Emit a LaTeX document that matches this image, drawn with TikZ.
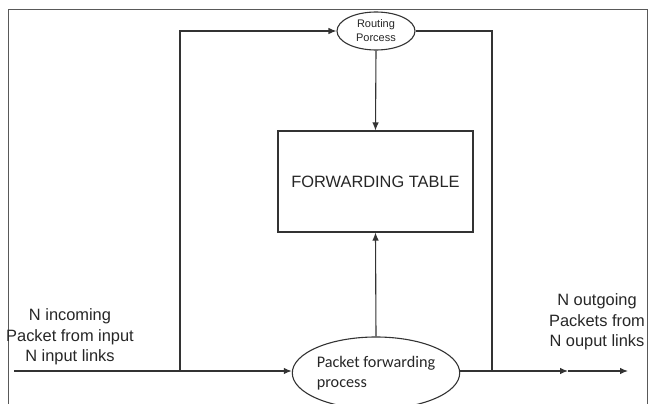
\documentclass[tikz,border=0pt]{standalone}
\usepackage{fontspec}
\setmainfont{Liberation Sans}
\newfontfamily\calibrifont{Carlito}
\usetikzlibrary{shapes.geometric,arrows.meta}
\begin{document}
\begin{tikzpicture}[x=1pt,y=-1pt,
  line/.style={draw=black!80,line width=1.1pt},
  arr/.style={line,-{Latex[length=8pt,width=6.5pt]}},
  procnode/.style={ellipse,draw=black!80,line width=1.1pt,inner sep=0pt},
  tablebox/.style={rectangle,draw=black!80,line width=1.1pt,minimum width=195pt,minimum height=101pt,
    font=\fontsize{16.4}{20}\selectfont,text=black!85},
  label/.style={align=center,font=\fontsize{16.4}{20.5}\selectfont,text=black!85,inner sep=0pt}
]
\useasboundingbox (0,0) rectangle (649,404);
% outer frame
\draw[draw=black!65,line width=1pt] (8,404) -- (8,10) -- (647,10) -- (647,404);

% nodes
\node[procnode,minimum width=78pt,minimum height=38pt,align=center,
  font=\fontsize{11}{14}\selectfont,text=black!85] (routing) at (376,31) {Routing\\Porcess};
\node[tablebox] (table) at (375.5,181.5) {FORWARDING TABLE};
\node[procnode,minimum width=143pt,minimum height=72pt,align=left,
  font=\calibrifont\fontsize{16.2}{20}\selectfont,text=black!85] (pf) at (376,373) {Packet forwarding\\process};

\node[label] (inlbl) at (70,337) {N incoming\\Packet from input\\N input links};
\node[label] (outlbl) at (597,322) {N outgoing\\Packets from\\N ouput links};

% junction points
\coordinate (inL) at (14,371);
\coordinate (jL) at (180,371);
\coordinate (jLtop) at (180,31);
\coordinate (jRtop) at (492,31);
\coordinate (jR) at (492,371);
\coordinate (out1) at (568,371);
\coordinate (out2) at (628,371);

% connectors
\draw[arr] (inL) -- (pf.west |- inL);
\draw[arr] (jL) -- (jLtop) -- (routing.west);
\draw[line] (routing.east) -- (jRtop) -- (jR);
\draw[arr] (routing.south) -- (table.north);
\draw[arr] (pf.north) -- (table.south);
\draw[arr] (pf.east |- jR) -- (out1);
\draw[arr] (out1) -- (out2);
\end{tikzpicture}
\end{document}
